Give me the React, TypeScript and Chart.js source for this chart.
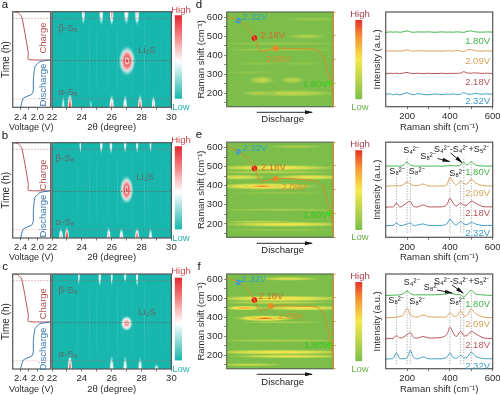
import React, { useEffect, useRef } from "react";
import { Chart, registerables } from "chart.js";
Chart.register(...registerables);

const FONT = "'Liberation Sans', Arial, sans-serif";
const INK = "#2b2b2b";
const FRAME = "#555555";
const RED = "#b5504f";
const BLUE = "#3a78b0";

// ---- voltage profile (left column): voltage, normalised time
const voltA = [2.4, 2.337, 2.135, 2.096, 2.096, 2.055, 1.935, 1.69];
const timeA = [0, 9.4, 13.6, 18, 28.6, 42.5, 47.7, 49.5];
const voltC = [1.69, 2.216, 2.216, 2.296, 2.376, 2.457, 2.59];
const timeC = [49.5, 50, 56.4, 77.4, 94.8, 99, 100];

// ---- XRD heat blobs: 2theta, time, half-width, half-height, level
const xrdA = [
  [27.03, 48.5, 0.62, 17, 1], [27.03, 48.5, 0.2, 5, 1],
  [24.1, 98, 0.14, 13, 0.55], [25.3, 98, 0.17, 14, 0.52], [26.0, 98, 0.16, 14, 0.72], [26.98, 98, 0.2, 13, 0.5], [27.7, 98, 0.18, 14, 0.6],
  [22.75, 1, 0.13, 12, 0.4], [23.2, 0, 0.2, 16, 0.95], [24.6, 0, 0.09, 10, 0.3], [26.0, 0, 0.2, 15, 0.7], [26.9, 0, 0.17, 15, 0.6], [27.9, 0, 0.18, 15, 0.85], [28.8, 0, 0.16, 14, 0.65],
];
const xrdB = [
  [27.0, 50.5, 0.5, 16, 1], [27.0, 50.5, 0.14, 6, 1],
  [23.9, 98, 0.09, 10, 0.48], [25.3, 98, 0.13, 11, 0.5], [25.95, 97, 0.13, 10, 0.45], [26.9, 98, 0.13, 10, 0.45], [27.7, 98, 0.12, 10, 0.45], [28.6, 98, 0.1, 9, 0.45],
  [22.6, 0, 0.18, 12, 0.65], [23.0, 0, 0.18, 13, 1], [25.8, 0, 0.16, 13, 0.7], [26.65, 0, 0.17, 12, 0.65], [27.7, 0, 0.18, 12, 0.85], [28.6, 0, 0.16, 12, 0.5],
];
const xrdC = [
  [27.0, 48, 0.45, 9, 0.78], [27.0, 48.5, 0.14, 2, 0.82],
  [23.8, 98, 0.09, 11, 0.42], [25.2, 98, 0.13, 13, 0.5], [26.0, 98, 0.1, 12, 0.45], [26.9, 98, 0.13, 8, 0.42], [27.7, 98, 0.12, 13, 0.48],
  [23.2, 0, 0.18, 17, 0.85], [26.0, 0, 0.18, 16, 0.5], [26.9, 0, 0.17, 16, 0.5], [27.9, 0, 0.17, 14, 0.5], [29.0, 0, 0.18, 6, 0.42],
];
const xrdTexture = [22.4, 23.7, 24.5, 25.0, 25.7, 26.4, 26.7, 27.4, 28.2, 28.5, 29.3, 29.7];
const xrdTextureLevel = [0.04, 0.03, 0.05];

// ---- Raman maps: discharge %, Raman shift, half-width, half-height, level
const mapD = [
  [75, 500, 22, 15, 0.22], [50, 462, 75, 10, 0.12], [50, 430, 68, 10, 0.14], [33, 270, 14, 24, 0.3], [62, 270, 14, 22, 0.25],
  [30, 357, 25, 12, 0.08], [70, 357, 25, 12, 0.08], [60, 200, 52, 20, 0.28], [30, 200, 18, 16, 0.22], [80, 590, 31, 12, 0.12], [20, 310, 31, 10, 0.08],
];
const mapE = [
  [65, 605, 31, 10, 0.2], [45, 494, 72, 18, 0.5], [40, 471, 75, 10, 0.25], [12, 445, 32, 16, 0.4], [78, 445, 44, 16, 0.45],
  [36, 397, 57, 20, 0.62], [33, 397, 20, 12, 0.85], [50, 362, 56, 10, 0.1], [50, 274, 75, 10, 0.16], [55, 198, 72, 16, 0.48], [30, 212, 44, 8, 0.28], [50, 168, 62, 8, 0.12],
];
const mapF = [
  [58, 603, 35, 12, 0.4], [50, 499, 77, 18, 0.55], [45, 478, 69, 10, 0.3], [17, 449, 22, 14, 0.72], [72, 449, 52, 16, 0.5],
  [36, 395, 32, 18, 0.82], [36, 395, 15, 10, 0.95], [50, 374, 50, 8, 0.2], [50, 278, 75, 10, 0.2], [50, 217, 81, 16, 0.5], [60, 195, 69, 12, 0.45], [20, 151, 40, 10, 0.32],
];

// ---- voltage curves on the Raman maps: discharge %, voltage
const curveX = [0, 11, 18.75, 26, 28.75, 32, 36, 46, 65.6, 84.4, 90.6, 95.3, 97.5, 100];
const curveD = [2.366, 2.327, 2.28, 2.18, 2.12, 2.07, 2.072, 2.093, 2.09, 2.08, 2.02, 1.88, 1.8, 1.7];
const curveE = [2.366, 2.32, 2.27, 2.18, 2.12, 2.07, 2.075, 2.093, 2.09, 2.07, 2.02, 1.88, 1.8, 1.7];
const curveF = [2.37, 2.33, 2.28, 2.18, 2.12, 2.09, 2.1, 2.13, 2.128, 2.12, 2.07, 1.93, 1.8, 1.7];
const markX = [[11, 26, 46, 97.5], [11, 26, 46, 97.5], [11, 26, 41.5, 97.5]];
const markV = [[2.327, 2.18, 2.093, 1.8], [2.32, 2.18, 2.093, 1.8], [2.33, 2.18, 2.13, 1.8]];
const markLabels = ["2.32V", "2.18V", "2.09V", "1.80V"];
const markColors = ["#2aa3d5", "#e0201c", "#ef8a1f", "#35e01f"];
const curveLabelColors = ["#2aa3c8", "#c9712a", "#d9922f", "#35c81f"];

// ---- Raman spectra
const shift = [100, 120, 135, 150, 165, 180, 200, 215, 230, 250, 275, 300, 330, 360, 385, 400, 415, 430, 450, 465, 480, 500, 520, 550, 575, 600];
const specD = [
  [78.5, 79, 78.7, 79, 78.6, 79, 80, 79, 78.6, 79, 78.8, 79, 78.6, 79, 78.7, 78.9, 78.6, 79, 78.8, 78.5, 79.5, 80, 79, 78.7, 79, 78.7],
  [58.6, 59, 58.7, 59, 58.7, 59, 60, 59, 58.6, 59, 59, 58.7, 58.9, 58.7, 59, 59, 58.7, 59.4, 58.8, 58, 60, 60.2, 59, 58.7, 59, 58.7],
  [35, 35.3, 35, 35.4, 35, 35.4, 36.2, 35.3, 35, 35.3, 35, 35.3, 35, 35.3, 35, 35.3, 35, 35.3, 35.4, 37, 35.6, 35.4, 35.8, 35.1, 35.4, 35],
  [13, 13.6, 12.6, 13.4, 12.5, 13.5, 14.6, 13.4, 12.6, 13.8, 13, 12.6, 13.5, 12.8, 13.4, 13, 13.6, 13, 13.2, 15, 13.4, 13.2, 14, 13.2, 13.6, 13],
];
const specE = [
  [74.6, 75, 74.8, 75, 74.8, 75.5, 79, 76, 75, 74.8, 75, 74.8, 75, 74.8, 75, 75.5, 75.2, 75.2, 76, 79, 76, 79.5, 76, 75, 74.8, 75],
  [53.6, 54, 54, 54.5, 54, 55, 58, 56, 54.5, 54.5, 56, 54, 54, 54, 55, 63, 58, 55, 59, 56.5, 56, 61, 57, 54.5, 54, 54],
  [31.5, 32, 32, 36, 32, 33, 36.5, 37.5, 32.5, 32, 34, 32, 32, 32, 34, 41, 36, 33, 36, 34, 34, 38, 36, 32.5, 32, 32],
  [12, 12.5, 12.5, 15, 12.5, 12.5, 14, 15, 12.5, 13, 14, 12.5, 12.5, 12.5, 14, 19, 15, 13, 16.5, 14, 13.5, 15.5, 14, 12.5, 12.5, 12.5],
];
const specF = [
  [77.3, 77.5, 77.7, 77.7, 78, 79, 81.7, 79.5, 78, 78, 78, 78, 78, 78.5, 79, 80, 79, 78.5, 78, 75.5, 79, 82.7, 79, 78, 77.5, 77.5],
  [53.8, 54, 54, 54.5, 55, 56, 63.4, 57, 55, 54.5, 56.5, 55, 54.5, 54.5, 55, 59, 56, 55, 61, 56, 56, 62.7, 58, 55, 54, 54],
  [31.5, 32, 32, 35, 32.5, 33, 36, 38, 33, 32.5, 34, 32.5, 32.5, 33, 36, 43.7, 38, 34, 39.4, 35, 35, 39.4, 37, 33, 32, 32],
  [10, 10.5, 11, 16.9, 11, 10.5, 11.5, 19.4, 12, 10.5, 12.5, 10.5, 10.5, 10.5, 12, 16.5, 12, 11, 14, 11.5, 12, 17.6, 13, 11, 10.5, 10.5],
];
const specColors = ["#45b54a", "#d9a45e", "#b8545a", "#3f9ec4"];
const specNames = ["1.80V", "2.09V", "2.18V", "2.32V"];
const guideShift = [150, 200, 215, 400, 450, 465, 500];
const guideTopE = [64, 84, 64, 64, 62, 83, 80];
const guideTopF = [69, 85, 69, 70, 70, 82, 82];

// ---- axis ticks
const ticksVolt = [2.4, 2.2, 2.0];
const labelsVolt = [2.4, 2.0];
const ticksTheta = [22, 23, 24, 25, 26, 27, 28, 29, 30];
const labelsTheta = [22, 24, 26, 28, 30];
const ticksRaman = [150, 200, 250, 300, 350, 400, 450, 500, 550, 600];
const labelsRaman = [200, 300, 400, 500, 600];
const ticksV = [2.4, 2.2, 2.0, 1.8, 1.6];
const ticksShift = [200, 300, 400, 500, 600];
const labelsShift = [200, 400, 600];

const PAGE_W = 500;
const PAGE_H = 395;

type Box = { l: number; t: number; r: number; b: number };
type Note = { text: string; x: number; y: number; color?: string; size?: number; align?: CanvasTextAlign; rot?: number };
type Arrow = [number, number, number, number];

const tealMap = [[0, [23, 183, 174]], [0.45, [255, 255, 255]], [0.75, [245, 130, 130]], [1, [228, 40, 50]]] as const;
const greenMap = [[0, [125, 190, 75]], [0.5, [246, 233, 78]], [0.78, [245, 150, 55]], [1, [228, 50, 40]]] as const;

function colorAt(map: readonly (readonly [number, readonly number[]])[], v: number, a: number) {
  for (let i = 1; i < map.length; i++) {
    if (v <= map[i][0]) {
      const [p0, c0] = map[i - 1];
      const [p1, c1] = map[i];
      const f = (v - p0) / (p1 - p0);
      return `rgba(${c0.map((c, k) => Math.round(c + (c1[k] - c) * f)).join(",")},${a})`;
    }
  }
  const last = map[map.length - 1][1];
  return `rgba(${last.join(",")},${a})`;
}

const frameOnly = (color: string, right?: string) => ({
  id: "frame",
  afterDatasetsDraw(chart: any) {
    const { ctx, chartArea: a } = chart;
    ctx.save();
    ctx.strokeStyle = color;
    ctx.lineWidth = 1.2;
    ctx.strokeRect(a.left, a.top, a.right - a.left, a.bottom - a.top);
    if (right) {
      ctx.strokeStyle = right;
      ctx.beginPath();
      ctx.moveTo(a.right, a.top);
      ctx.lineTo(a.right, a.bottom);
      ctx.stroke();
    }
    ctx.restore();
  },
});

const heatPlugin = (map: any) => ({
  id: "heat",
  beforeDatasetsDraw(chart: any) {
    const { ctx, chartArea: a, scales } = chart;
    ctx.save();
    ctx.beginPath();
    ctx.rect(a.left, a.top, a.right - a.left, a.bottom - a.top);
    ctx.clip();
    ctx.fillStyle = colorAt(map, 0, 1);
    ctx.fillRect(a.left, a.top, a.right - a.left, a.bottom - a.top);
    const ds = chart.data.datasets.find((d: any) => d.label === "heat");
    for (const p of ds.data) {
      const cx = scales.x.getPixelForValue(p.x);
      const cy = scales.y.getPixelForValue(p.y);
      const rx = Math.abs(scales.x.getPixelForValue(p.x + p.rx) - cx);
      const ry = Math.abs(scales.y.getPixelForValue(p.y + p.ry) - cy);
      ctx.save();
      ctx.translate(cx, cy);
      ctx.scale(rx, ry);
      const g = ctx.createRadialGradient(0, 0, 0, 0, 0, 1);
      for (let s = 0; s <= 1.001; s += 0.125) {
        const v = p.level * (1 - s * s) * (1 - s * 0.3);
        const alpha = s < 0.55 ? 1 : Math.max(0, (1 - s) / 0.45);
        g.addColorStop(Math.min(s, 1), colorAt(map, v, +alpha.toFixed(3)));
      }
      ctx.fillStyle = g;
      ctx.beginPath();
      ctx.arc(0, 0, 1, 0, Math.PI * 2);
      ctx.fill();
      ctx.restore();
    }
    ctx.restore();
  },
});

const notesPlugin = (notes: Note[], arrows: Arrow[] = []) => ({
  id: "notes",
  afterDraw(chart: any) {
    const { ctx } = chart;
    for (const n of notes) {
      ctx.save();
      ctx.font = `${n.size ?? 9}px ${FONT}`;
      ctx.fillStyle = n.color ?? INK;
      ctx.textAlign = n.align ?? "center";
      ctx.textBaseline = "middle";
      ctx.translate(n.x, n.y);
      if (n.rot) ctx.rotate(n.rot);
      ctx.fillText(n.text, 0, 0);
      ctx.restore();
    }
    for (const [x1, y1, x2, y2] of arrows) {
      const ang = Math.atan2(y2 - y1, x2 - x1);
      ctx.save();
      ctx.strokeStyle = "#111";
      ctx.fillStyle = "#111";
      ctx.lineWidth = 0.9;
      ctx.beginPath();
      ctx.moveTo(x1, y1);
      ctx.lineTo(x2, y2);
      ctx.stroke();
      ctx.translate(x2, y2);
      ctx.rotate(ang);
      ctx.beginPath();
      ctx.moveTo(1, 0);
      ctx.lineTo(-7, -2);
      ctx.lineTo(-7, 2);
      ctx.closePath();
      ctx.fill();
      ctx.restore();
    }
  },
});

const axis = (o: {
  pos: string; min: number; max: number; ticks?: number[]; labels?: number[]; digits?: number; size: number; title?: string;
  color?: string; fontSize?: number; reverse?: boolean; tick?: number; titleSize?: number;
}) => ({
  type: "linear",
  position: o.pos,
  min: o.min,
  max: o.max,
  reverse: !!o.reverse,
  afterBuildTicks: (s: any) => { s.ticks = (o.ticks ?? []).map((value) => ({ value })); },
  afterFit: (s: any) => {
    if (s.isHorizontal()) s.height = o.size; else s.width = o.size;
    s.paddingLeft = s.paddingRight = s.paddingTop = s.paddingBottom = 0;
  },
  grid: { drawOnChartArea: false, drawTicks: !!o.ticks, tickLength: o.tick ?? 2.5, color: o.color ?? FRAME, tickWidth: 0.8 },
  border: { display: false },
  ticks: {
    display: !!o.ticks,
    autoSkip: false,
    maxRotation: 0,
    minRotation: 0,
    padding: 1.5,
    color: o.color ?? INK,
    font: { family: FONT, size: o.fontSize ?? 9.5 },
    callback: (v: number) => ((o.labels ?? o.ticks ?? []).some((x) => Math.abs(x - v) < 1e-6) ? (o.digits ? v.toFixed(o.digits) : String(v)) : ""),
  },
  title: {
    display: !!o.title,
    text: o.title,
    color: INK,
    padding: 0,
    font: { family: FONT, size: o.titleSize ?? 9.5 },
  },
});

const base = (box: Box, wLeft: number, hBottom: number) => ({
  responsive: false,
  animation: false as const,
  events: [],
  layout: {
    padding: {
      left: box.l - wLeft,
      top: box.t,
      right: PAGE_W - box.r,
      bottom: PAGE_H - box.b - hBottom,
    },
  },
  plugins: { legend: { display: false }, title: { display: false }, tooltip: { enabled: false } },
});

const xy = (xs: number[], ys: number[]) => xs.map((x, i) => ({ x, y: ys[i] }));

function voltageChart(box: Box, hBottom: number) {
  const charge = xy(voltC, timeC);
  const discharge = xy(voltA, timeA);
  return {
    type: "line",
    data: {
      datasets: [
        { data: discharge, borderColor: BLUE, borderWidth: 1, pointRadius: 0, tension: 0.2 },
        { data: charge, borderColor: RED, borderWidth: 1, pointRadius: 0, tension: 0.15 },
        { data: [{ x: 1.68, y: 93 }, { x: 2.59, y: 93 }], borderColor: "#c58a8a", borderDash: [1.5, 1.5], borderWidth: 0.7, pointRadius: 0 },
        { data: [{ x: 1.68, y: 8.7 }, { x: 2.59, y: 8.7 }], borderColor: "#e0aab4", borderDash: [1.5, 1.5], borderWidth: 0.7, pointRadius: 0 },
      ],
    },
    options: {
      ...base(box, box.l, hBottom),
      parsing: false,
      scales: {
        x: axis({ pos: "bottom", min: 1.68, max: 2.59, reverse: true, ticks: ticksVolt, labels: labelsVolt, digits: 1, size: hBottom }),
        y: axis({ pos: "left", min: 0, max: 100, size: box.l, title: "Time (h)", titleSize: 10 }),
      },
    },
    plugins: [
      frameOnly(FRAME),
      // Chart.js squeezes an axis title to the axis width, and this one is wider than its axis.
      notesPlugin([{ text: "Voltage (V)", x: 31.3, y: box.b + hBottom - 5.4, size: 9, color: INK }]),
    ],
  };
}

function xrdChart(box: Box, hBottom: number, blobs: number[][], notes: Note[]) {
  const textured = [...xrdTexture.map((x, i) => [x, 50, 0.05, 60, xrdTextureLevel[i % 3]]), ...blobs];
  return {
    type: "line",
    data: {
      datasets: [
        { label: "heat", data: textured.map(([x, y, rx, ry, level]) => ({ x, y, rx, ry, level })), pointRadius: 0, showLine: false },
        { data: [{ x: 22, y: 93 }, { x: 30, y: 93 }], borderColor: "#8a7070", borderDash: [1.5, 1.5], borderWidth: 0.7, pointRadius: 0 },
        { data: [{ x: 22, y: 48.8 }, { x: 30, y: 48.8 }], borderColor: "#6a5a5a", borderDash: [1.5, 1.5], borderWidth: 0.7, pointRadius: 0 },
        { data: [{ x: 22, y: 8.7 }, { x: 30, y: 8.7 }], borderColor: "#8a7a7a", borderDash: [1.5, 1.5], borderWidth: 0.7, pointRadius: 0 },
      ],
    },
    options: {
      ...base(box, 0, hBottom),
      parsing: false,
      scales: {
        x: axis({ pos: "bottom", min: 22, max: 30, ticks: ticksTheta, labels: labelsTheta, size: hBottom, title: "2θ (degree)" }),
        y: { display: false, min: 0, max: 100 },
      },
    },
    plugins: [heatPlugin(tealMap), frameOnly(FRAME), notesPlugin(notes)],
  };
}

function mapChart(box: Box, blobs: number[][], curve: number[], mi: number, labelPos: number[][], arrow: Arrow, discharge: number[]) {
  const notes: Note[] = [
    ...markLabels.map((text, i) => ({ text, x: labelPos[i][0], y: labelPos[i][1], color: curveLabelColors[i], size: 9.5 })),
    { text: "Discharge", x: discharge[0], y: discharge[1], color: "#222", size: 9.5 },
  ];
  return {
    type: "line",
    data: {
      datasets: [
        { label: "heat", data: blobs.map(([x, y, rx, ry, level]) => ({ x, y, rx, ry, level })), pointRadius: 0, showLine: false },
        { data: xy(curveX, curve), yAxisID: "v", borderColor: "#d98a2c", borderWidth: 1, pointRadius: 0, tension: 0.25 },
        { data: xy(markX[mi], markV[mi]), yAxisID: "v", showLine: false, pointRadius: 2.8, pointBackgroundColor: markColors, pointBorderWidth: 0 },
      ],
    },
    options: {
      ...base(box, 30.6, 0),
      parsing: false,
      scales: {
        x: { type: "linear", display: false, min: 0, max: 100 },
        y: axis({ pos: "left", min: 130, max: 628, ticks: ticksRaman, labels: labelsRaman, size: 30.6, title: "Raman shift (cm⁻¹)" }),
        v: axis({ pos: "right", min: 1.6, max: 2.4, ticks: ticksV, digits: 1, size: 0, color: "#d8963c", fontSize: 10 }),
      },
    },
    plugins: [heatPlugin(greenMap), frameOnly("#5a6a50", "#d8963c"), notesPlugin(notes, [arrow])],
  };
}

function spectrumChart(box: Box, hBottom: number, series: number[][], labelY: number[], guides: number[] | null, notes: Note[], arrows: Arrow[]) {
  return {
    type: "line",
    data: {
      datasets: [
        ...(guides
          ? guideShift.map((x, i) => ({
              data: [{ x, y: 5 }, { x, y: guides[i] }],
              borderColor: "#888",
              borderDash: [1.2, 1.5],
              borderWidth: 0.7,
              pointRadius: 0,
            }))
          : []),
        ...series.map((s, i) => ({ data: xy(shift, s), borderColor: specColors[i], borderWidth: 1, pointRadius: 0, tension: 0.35 })),
      ],
    },
    options: {
      ...base(box, 14, hBottom),
      parsing: false,
      scales: {
        x: axis({ pos: "bottom", min: 100, max: 600, ticks: ticksShift, labels: labelsShift, size: hBottom, title: "Raman shift (cm⁻¹)" }),
        y: axis({ pos: "left", min: 0, max: 100, size: 14, title: "Intensity (a.u.)" }),
      },
    },
    plugins: [
      frameOnly(FRAME),
      notesPlugin(
        [...specNames.map((text, i) => ({ text, x: 490, y: labelY[i], color: specColors[i], size: 9.5, align: "right" as CanvasTextAlign })), ...notes],
        arrows
      ),
    ],
  };
}

function colorBar(box: Box, map: any) {
  return {
    type: "bar",
    data: {
      labels: [""],
      datasets: [
        {
          data: [1],
          categoryPercentage: 1,
          barPercentage: 1,
          borderWidth: 0,
          backgroundColor: (c: any) => {
            const a = c.chart.chartArea;
            if (!a) return "#fff";
            const g = c.chart.ctx.createLinearGradient(0, a.bottom, 0, a.top);
            for (let i = 0; i <= 20; i++) g.addColorStop(i / 20, colorAt(map, i / 20, 1));
            return g;
          },
        },
      ],
    },
    options: {
      ...base(box, 0, 0),
      scales: { x: { display: false }, y: { display: false, min: 0, max: 1 } },
    },
  };
}

const S8 = "S₈²⁻";
const S4 = "S₄²⁻";
const S_MIX = "S₄²⁻-S₄²⁻+S₅²⁻";

const rows = [
  { letter: "a", top: 11.7, bottom: 107.3, hXrd: 26, blobs: xrdA, beta: [68, 28], alpha: [68, 92.7], li: [147, 50], charge: 38, dis: 85, lh: 10, ll: 107 },
  { letter: "b", top: 142.7, bottom: 238, hXrd: 25.4, blobs: xrdB, beta: [65, 158], alpha: [65, 222.7], li: [145, 177.7], charge: 175, dis: 216, lh: 140, ll: 238 },
  { letter: "c", top: 274, bottom: 369, hXrd: 26.4, blobs: xrdC, beta: [68, 290], alpha: [68, 354.7], li: [147, 312], charge: 303.7, dis: 349, lh: 271, ll: 369 },
];

const noteRow = (list: [string, number, number][]): Note[] => list.map(([text, x, y]) => ({ text, x, y, size: 9, color: "#222" }));

const mapRows = [
  { letter: "d", top: 12, bottom: 106.7, h: 26, blobs: mapD, curve: curveD, spec: specD, guides: null as number[] | null,
    labels: [[255, 17.3], [272.7, 35.7], [278.3, 59], [315.3, 84]], arrowY: 112.3, disc: 119, labelY: [41, 61, 82, 101.7], notes: [] as Note[], arrows: [] as Arrow[] },
  { letter: "e", top: 142.2, bottom: 237.3, h: 26, blobs: mapE, curve: curveE, spec: specE, guides: guideTopE,
    labels: [[255, 148.3], [273.3, 167], [294, 187], [315.3, 215.7]], arrowY: 243.3, disc: 250.7, labelY: [172, 193, 213, 233],
    notes: noteRow([[S4, 411, 151], [S8, 428, 157], [S_MIX, 461.7, 149.5], [S8, 397, 172], [S8, 416.7, 172], [S8, 457, 174]]),
    arrows: [[437.5, 158.5, 449.5, 161.5], [450.5, 153, 462, 162.5]] as Arrow[] },
  { letter: "f", top: 274, bottom: 368.7, h: 26.4, blobs: mapF, curve: curveF, spec: specF, guides: guideTopF,
    labels: [[254, 279.3], [271, 296], [291, 316], [316.7, 345.3]], arrowY: 374.3, disc: 382, labelY: [304, 324, 345, 366],
    notes: noteRow([[S4, 411.7, 282.7], [S8, 431.7, 288], [S_MIX, 461.7, 281.3], [S8, 396, 301], [S8, 417, 302], [S8, 457, 302]]),
    arrows: [[437, 290, 452, 293], [452, 285, 463, 293]] as Arrow[] },
];

function buildAll() {
  const configs: any[] = [];
  rows.forEach((r, i) => {
    const vBox = { l: 12.7, t: r.top, r: 50.7, b: r.bottom };
    const hBox = { l: 52, t: r.top, r: 171.4, b: r.bottom };
    configs.push(voltageChart(vBox, r.hXrd));
    const notes: Note[] = [
      { text: r.letter, x: 5, y: r.top - 7, size: 11.5, color: "#111" },
      { text: "Charge", x: 43.5, y: r.charge, color: RED, size: 9.5, rot: -Math.PI / 2 },
      { text: "Discharge", x: 43.5, y: r.dis, color: BLUE, size: 9.5, rot: -Math.PI / 2 },
      { text: "β-S₈", x: r.beta[0], y: r.beta[1], color: "#666", size: 9.5 },
      { text: "α-S₈", x: r.alpha[0], y: r.alpha[1], color: "#666", size: 9.5 },
      { text: "Li₂S", x: r.li[0], y: r.li[1], color: "#666", size: 9.5 },
      { text: "High", x: 181, y: r.lh, color: "#c8464c", size: 9.5 },
      { text: "Low", x: 181, y: r.ll, color: "#25b3aa", size: 9.5 },
    ];
    configs.push(xrdChart(hBox, r.hXrd, r.blobs, notes));
    configs.push(colorBar({ l: 174.7, t: r.top + 3.6, r: 182, b: r.bottom - 8.6 }, tealMap));
    const m = mapRows[i];
    const mBox = { l: 226.7, t: m.top, r: 333.3, b: m.bottom };
    const mapCfg: any = mapChart(mBox, m.blobs, m.curve, i, m.labels, [256.7, m.arrowY, 312, m.arrowY], [282.7, m.disc]);
    mapCfg.plugins.push(
      notesPlugin([
        { text: m.letter, x: 199, y: m.top - 7, size: 11.5, color: "#111" },
        { text: "High", x: 360, y: m.top + 2, color: "#a8404c", size: 9.5 },
        { text: "Low", x: 360, y: m.bottom + 0.5, color: "#6db04a", size: 9.5 },
      ])
    );
    configs.push(mapCfg);
    configs.push(colorBar({ l: 355.3, t: m.top + 8, r: 362.3, b: m.bottom - 7.4 }, greenMap));
    configs.push(spectrumChart({ l: 385.7, t: m.top, r: 492.7, b: m.bottom }, m.h, m.spec, m.labelY, m.guides, m.notes, m.arrows));
  });
  return configs;
}

export default function App() {
  const host = useRef<HTMLDivElement>(null);
  useEffect(() => {
    const el = host.current!;
    const charts = buildAll().map((cfg) => {
      const cv = document.createElement("canvas");
      cv.width = PAGE_W;
      cv.height = PAGE_H;
      cv.style.cssText = `position:absolute;left:0;top:0;width:${PAGE_W}px;height:${PAGE_H}px;pointer-events:none`;
      el.appendChild(cv);
      return new Chart(cv, cfg);
    });
    return () => {
      charts.forEach((c) => c.destroy());
      el.innerHTML = "";
    };
  }, []);
  return <div ref={host} style={{ position: "fixed", left: 0, top: 0, width: PAGE_W, height: PAGE_H, background: "#fff", overflow: "hidden" }} />;
}
